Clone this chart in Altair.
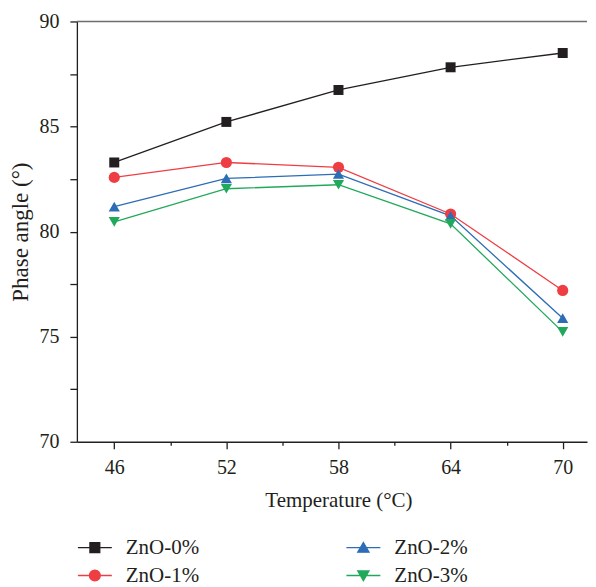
import altair as alt
import pandas as pd

# ---- data ----
temps = [46, 52, 58, 64, 70]
series_names = ["ZnO-0%", "ZnO-1%", "ZnO-2%", "ZnO-3%"]
zno_0 = [83.29, 85.22, 86.74, 87.82, 88.50]
zno_1 = [82.58, 83.29, 83.06, 80.84, 77.20]
zno_2 = [81.19, 82.53, 82.74, 80.75, 75.88]
zno_3 = [80.46, 82.04, 82.23, 80.37, 75.23]
y_major = [70, 75, 80, 85, 90]
y_minor = [72.5, 77.5, 82.5, 87.5]
x_major = [46, 52, 58, 64, 70]
x_minor = [49, 55, 61, 67]

colors = ["#231f20", "#ee3e44", "#2c6db5", "#21a95b"]
marker_shapes = ["square", "circle", "triangle-up", "triangle-down"]
marker_sizes = [100, 125, 125, 125]
legend_paths = [
    "M-1,0H1M-0.29,-0.29H0.29V0.29H-0.29Z",
    "M-1,0H1M-0.32,0A0.32,0.32,0,1,0,0.32,0A0.32,0.32,0,1,0,-0.32,0Z",
    "M-1,0H1M0,-0.3L0.33,0.27H-0.33Z",
    "M-1,0H1M0,0.3L0.33,-0.27H-0.33Z",
]

rows = []
for name, vals in zip(series_names, [zno_0, zno_1, zno_2, zno_3]):
    for t, v in zip(temps, vals):
        rows.append({"series": name, "temp": t, "phase": v})
df = pd.DataFrame(rows)

FONT = "Liberation Serif"
INK = "#231f20"
color_scale = alt.Scale(domain=series_names, range=colors)
shape_scale = alt.Scale(domain=series_names, range=legend_paths)
x_scale = alt.Scale(domain=[44, 71.3], nice=False, zero=False)
y_scale = alt.Scale(domain=[70, 90], nice=False, zero=False)

x_axis = alt.Axis(values=x_major, title="Temperature (°C)", format="d", orient="bottom",
                  tickSize=7, labelPadding=9, titlePadding=12, titleX=262, grid=False)
y_axis = alt.Axis(values=y_major, title="Phase angle (°)", orient="left", titleFontSize=23,
                  tickSize=7, labelPadding=11, titlePadding=6, grid=False)
x_minor_axis = alt.Axis(values=x_minor, labels=False, domain=False, title=None,
                        orient="bottom", tickSize=3.5, grid=False)
y_minor_axis = alt.Axis(values=y_minor, labels=False, domain=False, title=None,
                        orient="left", tickSize=7, grid=False)

base = alt.Chart(df)

leg = alt.Legend(
    title=None, orient="none", legendX=0, legendY=509, columns=2,
    columnPadding=144, rowPadding=0, symbolSize=1156,
    labelFont=FONT, labelFontSize=21, labelColor=INK, labelOffset=13,
    symbolStrokeWidth=1.3, symbolOpacity=1,
)
legend_layer = base.mark_point(
    filled=True, opacity=0, strokeWidth=1.3
).encode(
    x=alt.X("temp:Q", scale=x_scale, axis=None),
    y=alt.Y("phase:Q", scale=y_scale, axis=None),
    color=alt.Color("series:N", scale=color_scale, legend=leg),
    stroke=alt.Stroke("series:N", scale=color_scale, legend=leg),
    shape=alt.Shape("series:N", scale=shape_scale, legend=leg),
)

lines = base.mark_line(strokeWidth=1.3).encode(
    x=alt.X("temp:Q", scale=x_scale, axis=x_axis),
    y=alt.Y("phase:Q", scale=y_scale, axis=y_axis),
    color=alt.Color("series:N", scale=color_scale, legend=None),
    detail="series:N",
)

point_layers = []
for i, (name, shp, sz) in enumerate(zip(series_names, marker_shapes, marker_sizes)):
    point_layers.append(
        base.transform_filter(alt.datum.series == name)
        .mark_point(shape=shp, size=sz, filled=True, opacity=1)
        .encode(
            x=alt.X("temp:Q", scale=x_scale, axis=x_minor_axis if i == 0 else None),
            y=alt.Y("phase:Q", scale=y_scale, axis=y_minor_axis if i == 0 else None),
            color=alt.Color("series:N", scale=color_scale, legend=None),
        )
    )

frame_top = alt.Chart(pd.DataFrame({"frame": [0]})).mark_rule(
    color="#6d6e71", strokeWidth=1.5
).encode(y=alt.Y(datum=90, scale=y_scale, axis=None))

chart = (
    alt.layer(legend_layer, frame_top, lines, *point_layers)
    .resolve_axis(x="independent", y="independent")
    .properties(width=511, height=421,
                padding={"left": 2, "top": 3, "right": 0, "bottom": 0})
    .configure_view(stroke=None)
    .configure_axis(
        labelFont=FONT, titleFont=FONT, labelFontSize=20, titleFontSize=21,
        labelColor=INK, titleColor=INK, titleFontWeight="normal",
        domainColor=INK, tickColor=INK, domainWidth=1.3, tickWidth=1.3,
    )
)

chart.save("out.html", embed_options={"renderer": "svg", "actions": False})
